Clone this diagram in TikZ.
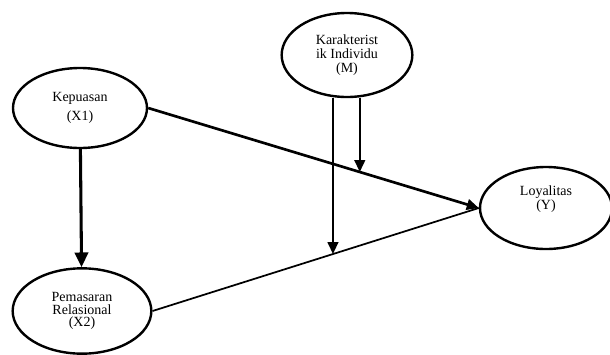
\documentclass[tikz,border=0pt]{standalone}
\usepackage{fontspec}
\setmainfont{Liberation Serif}
\usetikzlibrary{shapes.geometric,arrows.meta}
\begin{document}
\begin{tikzpicture}[x=0.75pt,y=-0.75pt, every node/.style={font=\fontsize{10.5}{9.5}\selectfont},
  var/.style={draw,ellipse,line width=1.8pt,inner sep=0pt,align=center},
  link/.style={line width=1.7pt,-{Triangle[length=9pt,width=8pt]}},
  plain/.style={line width=1.3pt}]
\useasboundingbox (0,0) rectangle (610,354);
% variables
\node[var,minimum width=100.5pt,minimum height=60pt] (x1) at (80,108) {Kepuasan\\[4pt](X1)};
\node[var,minimum width=98pt,minimum height=63pt] (m) at (347,55) {Karakterist\\[1pt]ik Individu\\[1pt](M)};
\node[var,minimum width=99pt,minimum height=61.5pt] (y) at (546,208) {Loyalitas\\(Y)\\[6pt]};
\node[var,minimum width=104pt,minimum height=64pt] (x2) at (82,311) {Pemasaran\\Relasional\\(X2)};
% direct paths
\draw[link,line width=2.3pt,-{Triangle[length=11pt,width=10pt]}] (x1) -- (x2);
\draw[link,line width=2pt] (x1.east) -- (y.west);
\draw[plain] (x2.east) -- (y.west);
% moderation
\path (x1.east) -- (y.west) coordinate[pos=0.64] (mx1);
\path (x2.east) -- (y.west) coordinate[pos=0.553] (mx2);
\draw[link] (m.south -| mx1) -- (mx1);
\draw[link] (m.south -| mx2) -- (mx2);
\end{tikzpicture}
\end{document}
